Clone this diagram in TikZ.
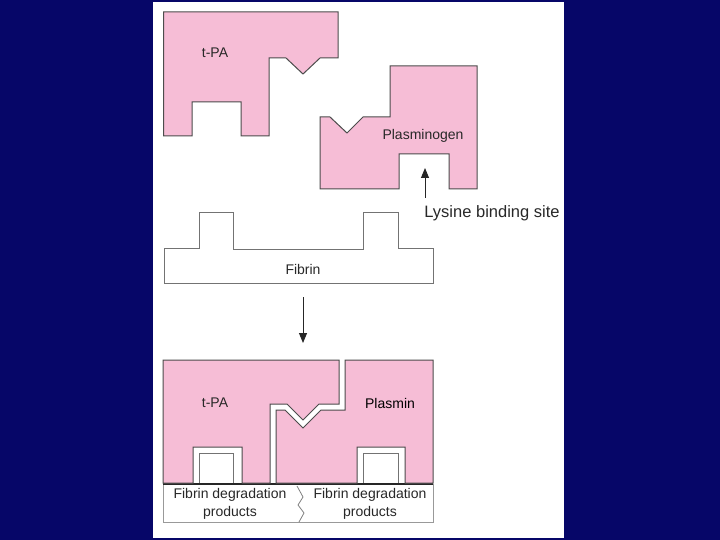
\documentclass[tikz,border=0pt]{standalone}
\usepackage{fontspec}
\setmainfont{Liberation Sans}
\usetikzlibrary{arrows.meta}
\definecolor{bgblue}{RGB}{6,6,104}
\definecolor{molpink}{RGB}{246,189,214}
\definecolor{txtgray}{RGB}{40,40,40}
\tikzset{
  molecule/.style={fill=molpink, draw=black!70, line width=1bp, line join=miter},
  fibrinshape/.style={fill=white, draw=black!55, line width=1bp},
  lbl/.style={font=\fontsize{14bp}{18bp}\selectfont, text=txtgray, inner sep=0pt, align=center},
  arrowline/.style={draw=black!85, line width=0.9bp, -{Triangle[length=10bp,width=8bp]}},
}
\begin{document}
\begin{tikzpicture}[x=1bp,y=-1bp]
\useasboundingbox (0,0) rectangle (720,540);
\fill[bgblue] (0,0) rectangle (720,540);
\fill[white] (153,2) rectangle (564,538);

% top t-PA
\path[molecule] (163.5,12) -- (338,12) -- (338,58) -- (320,58) -- (303,74) -- (286,58) -- (269,58)
  -- (269,136) -- (241,136) -- (241,102) -- (192,102) -- (192,136) -- (163.5,136) -- cycle;
\node[lbl] (tpa1) at (215,53) {t-PA};

% plasminogen
\path[molecule] (390,66) -- (477,66) -- (477,189) -- (449,189) -- (449,154) -- (399,154) -- (399,189)
  -- (320,189) -- (320,117) -- (330,117) -- (347,133) -- (363,117) -- (390,117) -- cycle;
\node[lbl] (plg) at (423,136) {Plasminogen};

% lysine binding site
\node[lbl, font=\fontsize{16.5bp}{18bp}\selectfont] (lys) at (492,213) {Lysine binding site};
\coordinate (lystail) at (425,198);
\coordinate (lystip) at (425,168);
\draw[arrowline] (lystail) -- (lystip);

% fibrin
\path[fibrinshape] (164,249) -- (199,249) -- (199,213) -- (233,213) -- (233,250) -- (363,250)
  -- (363,213) -- (398,213) -- (398,249) -- (433,249) -- (433,283) -- (164,283) -- cycle;
\node[lbl] (fib) at (303,269) {Fibrin};

% reaction arrow
\coordinate (rtail) at (303,297);
\coordinate (rtip) at (303,343);
\draw[arrowline] (rtail) -- (rtip);

% bottom complex: fibrin degradation products
\draw[draw=black!40, line width=1bp, fill=white] (163,484) rectangle (433,522);
\draw[fibrinshape] (199,484) -- (199,453) -- (233,453) -- (233,484);
\draw[fibrinshape] (363,484) -- (363,453) -- (398,453) -- (398,484);
\draw[black!85, line width=2bp] (163,484) -- (433,484);
\draw[black!50, line width=0.8bp] (297,486) -- (303,497) -- (298,505) -- (304,513) -- (299,522);
\node[lbl] (fdp1) at (230,504) {Fibrin degradation\\products};
\node[lbl] (fdp2) at (370,504) {Fibrin degradation\\products};

% bottom t-PA
\path[molecule] (163,360) -- (339,360) -- (339,404) -- (319,404) -- (303,420) -- (287,404) -- (270,404)
  -- (270,483) -- (242,483) -- (242,447) -- (193,447) -- (193,483) -- (163,483) -- cycle;
\node[lbl] (tpa2) at (215,403) {t-PA};

% plasmin
\path[molecule] (345,360) -- (433,360) -- (433,483) -- (405,483) -- (405,447) -- (357,447) -- (357,483)
  -- (276,483) -- (276,410) -- (285,410) -- (303,428) -- (321,410) -- (345,410) -- cycle;
\node[lbl, text=black] (pls) at (390,403) {Plasmin};
\end{tikzpicture}
\end{document}
